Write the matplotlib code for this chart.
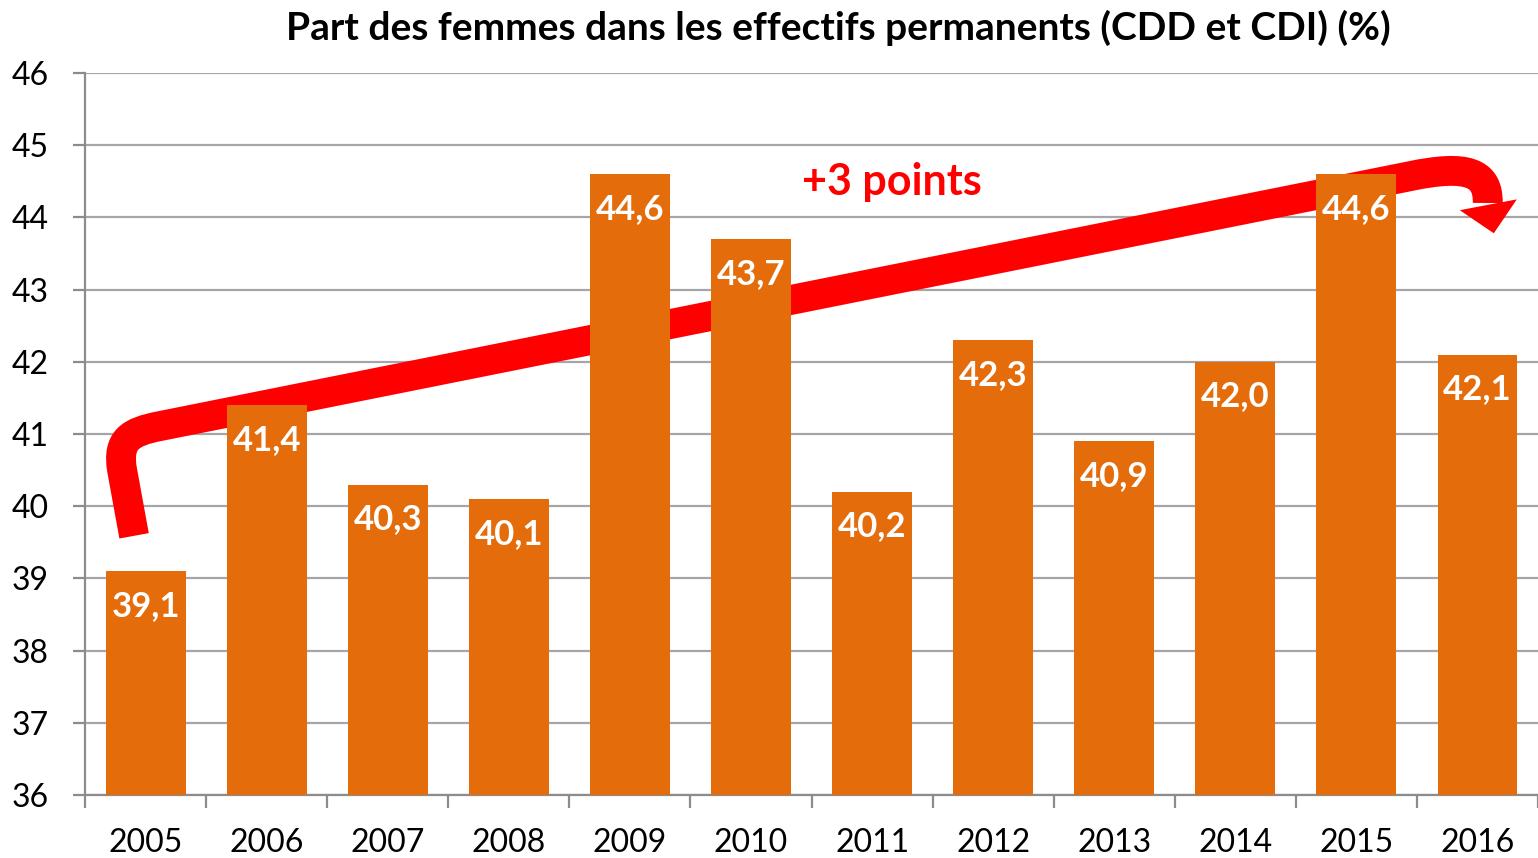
import matplotlib.pyplot as plt
from matplotlib.path import Path
from matplotlib.patches import PathPatch, Polygon

years = ["2005", "2006", "2007", "2008", "2009", "2010",
         "2011", "2012", "2013", "2014", "2015", "2016"]
share = [39.1, 41.4, 40.3, 40.1, 44.6, 43.7, 40.2, 42.3, 40.9, 42.0, 44.6, 42.1]
labels = ["39,1", "41,4", "40,3", "40,1", "44,6", "43,7",
          "40,2", "42,3", "40,9", "42,0", "44,6", "42,1"]
y_ticks = list(range(36, 47))

# trend arrow in data coords (x = category index, y = %)
trend_band = [(-0.095, 39.59), (-0.194, 40.50),
              (-0.236, 40.92), (-0.128, 41.03), (0.119, 41.11),
              (10.44, 44.57),
              (10.92, 44.74), (11.09, 44.62), (11.085, 44.20)]
trend_codes = [Path.MOVETO, Path.LINETO,
               Path.CURVE4, Path.CURVE4, Path.CURVE4,
               Path.LINETO,
               Path.CURVE4, Path.CURVE4, Path.CURVE4]
arrow_head = [(10.854, 44.10), (11.325, 44.25), (11.135, 43.78)]

plt.rcParams["font.family"] = ["Lato", "DejaVu Sans"]

fig = plt.figure(figsize=(15.38, 8.58), dpi=100)
ax = fig.add_axes([0.0553, 0.0734, 0.9447, 0.8415])

x = list(range(len(years)))
ax.bar(x, [v - 36 for v in share], bottom=36, width=0.66,
       color="#E46C0A", zorder=3)

for i, (v, t) in enumerate(zip(share, labels)):
    ax.annotate(t, (i, v), xytext=(0, -25), textcoords="offset points",
                ha="center", va="center", color="white",
                fontsize=25, fontweight="bold", zorder=5)

ax.add_patch(PathPatch(Path(trend_band, trend_codes), fill=False,
                       edgecolor="#FF0000", linewidth=21.5,
                       capstyle="butt", joinstyle="round", zorder=2))
ax.add_patch(Polygon(arrow_head, closed=True, facecolor="#FF0000",
                     edgecolor="none", zorder=2))

ax.text(6.16, 44.49, "+3 points", color="#FF0000", fontsize=31,
        fontweight="bold", ha="center", va="center", zorder=4)

ax.set_xlim(-0.5, len(years) - 0.5)
ax.set_ylim(36, 46)
ax.set_yticks(y_ticks)
ax.set_xticks(x)
ax.set_xticklabels(years)
ax.set_xticks([i - 0.5 for i in range(len(years) + 1)], minor=True)

ax.grid(axis="y", color="#A6A6A6", linewidth=1.6, zorder=1)
ax.set_axisbelow(True)

for side in ["top", "right"]:
    ax.spines[side].set_visible(False)
for side in ["left", "bottom"]:
    ax.spines[side].set_color("#8C8C8C")
    ax.spines[side].set_linewidth(1.6)

ax.tick_params(axis="y", length=9, width=1.6, color="#8C8C8C",
               pad=17, labelsize=23)
ax.tick_params(axis="x", which="major", length=0, pad=24, labelsize=23)
ax.tick_params(axis="x", which="minor", length=9, width=1.6,
               color="#8C8C8C")

fig.text(0.545, 0.968, "Part des femmes dans les effectifs permanents (CDD et CDI) (%)",
         ha="center", va="center", fontsize=28, fontweight="bold")

fig.savefig("out.png", dpi=100)
